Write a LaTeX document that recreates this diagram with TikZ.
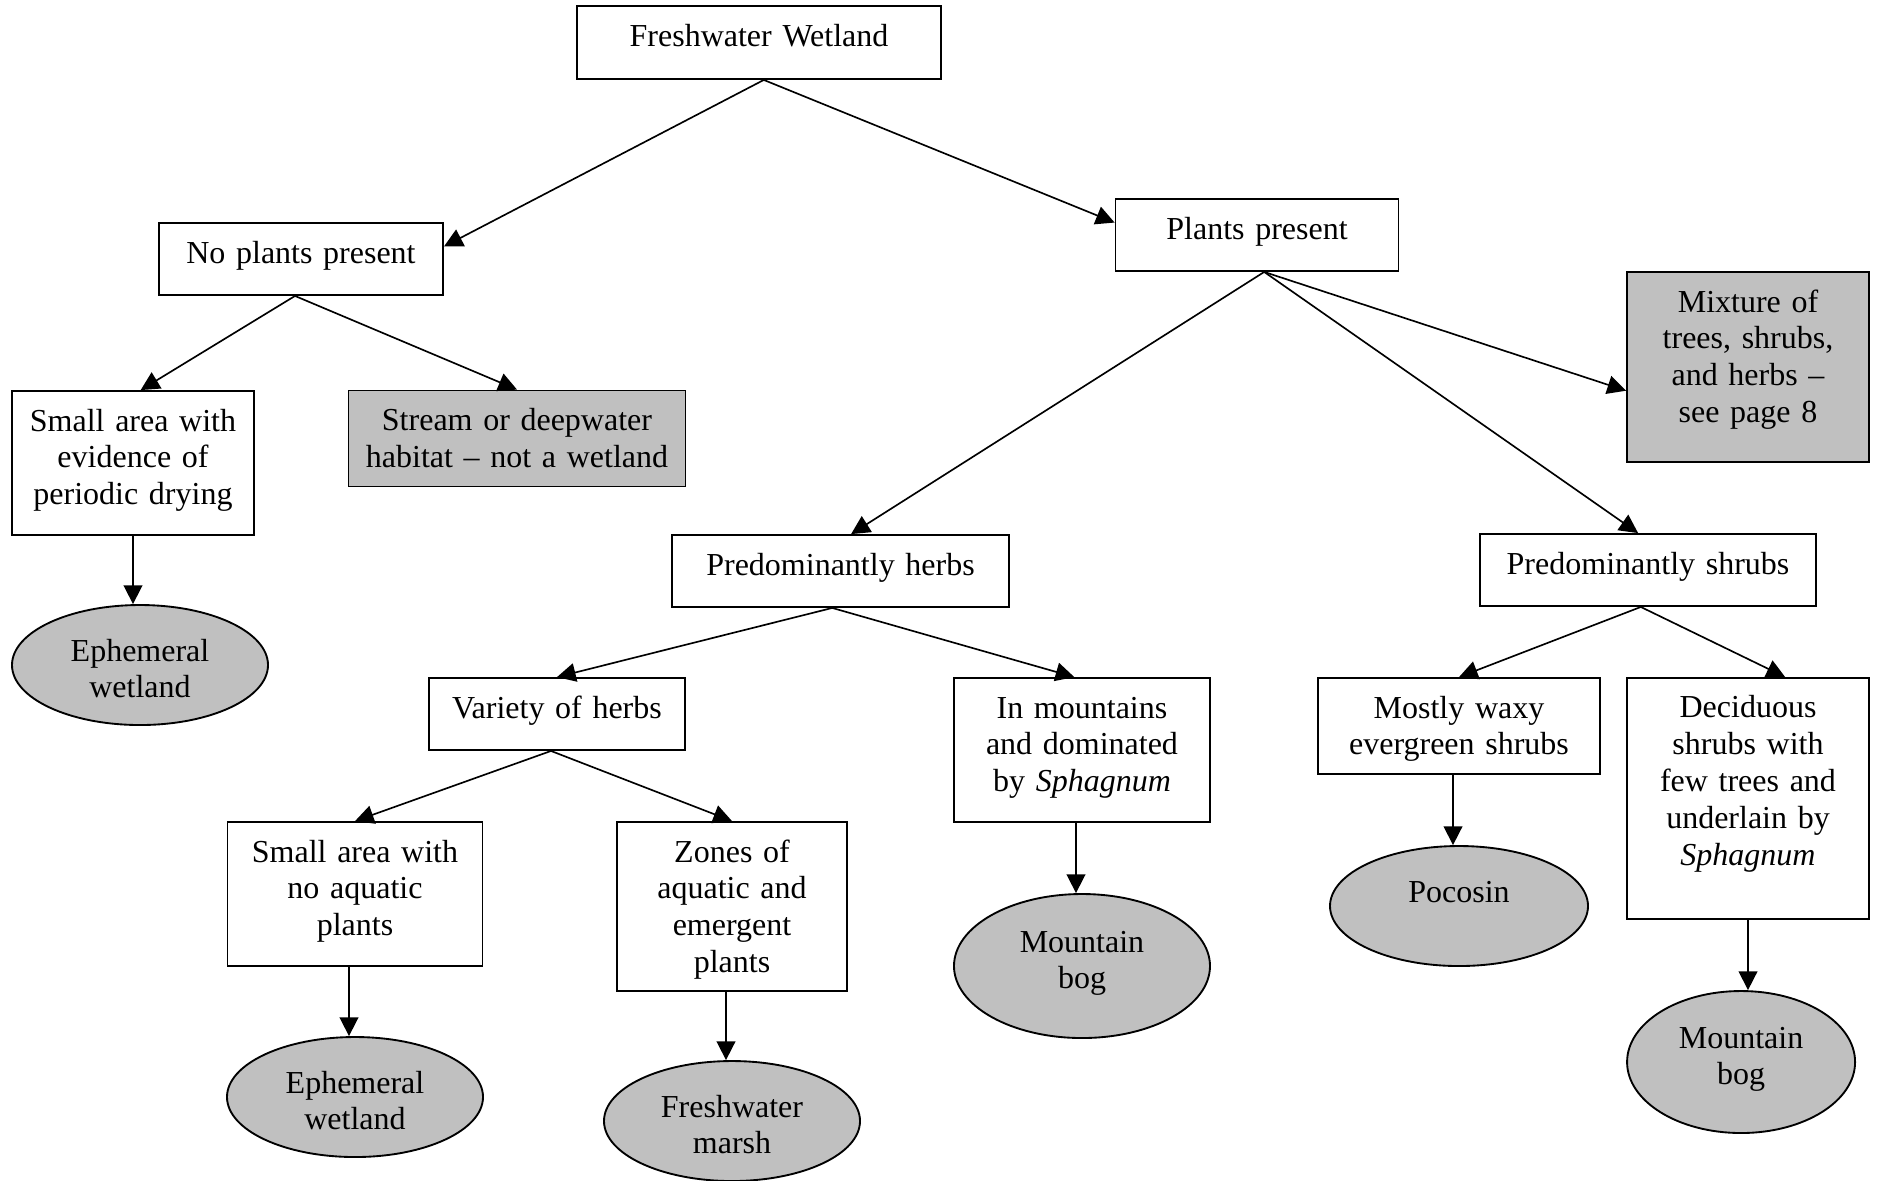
\documentclass[tikz,border=0pt]{standalone}
\usepackage{fontspec}
\setmainfont{Liberation Serif}
\usetikzlibrary{arrows.meta,positioning,shapes.geometric}
\definecolor{shade}{RGB}{192,192,192}

\begin{document}
\begin{tikzpicture}[x=0.375pt,y=-0.375pt]
\tikzstyle{box} = [rectangle, draw, line width=0.7pt, inner sep=0pt, align=center, text height=15pt, font=\fontsize{12}{13.8}\selectfont]
\tikzstyle{grey box} = [box, fill=shade]
\tikzstyle{leaf} = [ellipse, draw, fill=shade, line width=0.7pt, inner sep=0pt, align=center, text width=60pt, text height=9pt, text depth=12pt, minimum width=96pt, minimum height=45pt, font=\fontsize{12}{13.8}\selectfont]
\tikzstyle{tall leaf} = [leaf, text depth=19.5pt, minimum height=54pt]
\tikzstyle{arrow} = [-{Triangle[length=7pt,width=7pt]}, line width=0.62pt]
\useasboundingbox (0,0) rectangle (1879,1180);

\node [box, text width=136.5pt, text depth=12.375pt] (wetland) at (759,42.5) {Freshwater Wetland};
\node [box, text width=106.5pt, text depth=12pt, node distance=81.19pt, below of=wetland, xshift=-171.75pt] (noplants) {No plants present};
\node [box, text width=106.1pt, text depth=12pt, node distance=72.19pt, below of=wetland, xshift=186.75pt] (plants) {Plants present};
\node [grey box, text width=90.75pt, text depth=56.25pt, node distance=49.5pt, below of=plants, xshift=184.125pt] (mixture) {Mixture of\\trees, shrubs,\\and herbs --\\see page 8};
\node [box, text width=90.75pt, text depth=39pt, node distance=76.5pt, below of=noplants, xshift=-63pt] (smalldry) {Small area with\\evidence of\\periodic drying};
\node [grey box, text width=126.4pt, text depth=21pt, node distance=67.31pt, below of=noplants, xshift=81pt] (stream) {Stream or deepwater\\habitat -- not a wetland};
\node [leaf, node distance=75.75pt, below of=smalldry, xshift=2.625pt] (ephem1) {Ephemeral\\wetland};
\node [box, text width=126.4pt, text depth=12pt, node distance=126pt, below of=plants, xshift=-156.19pt] (herbs) {Predominantly herbs};
\node [box, text width=126pt, text depth=12pt, node distance=125.625pt, below of=plants, xshift=146.625pt] (shrubs) {Predominantly shrubs};
\node [box, text width=96pt, text depth=12pt, node distance=53.625pt, below of=herbs, xshift=-106.31pt] (variety) {Variety of herbs};
\node [box, text width=96pt, text depth=39pt, node distance=67.125pt, below of=herbs, xshift=90.56pt] (mountains) {In mountains\\and dominated\\by \textit{Sphagnum}};
\node [box, text width=95.6pt, text depth=39pt, node distance=67.5pt, below of=variety, xshift=-75.75pt] (noaquatic) {Small area with\\no aquatic\\plants};
\node [box, text width=86.25pt, text depth=48.4pt, node distance=72.19pt, below of=variety, xshift=65.625pt] (zones) {Zones of\\aquatic and\\emergent\\plants};
\node [leaf, node distance=76.125pt, below of=noaquatic] (ephem2) {Ephemeral\\wetland};
\node [leaf, node distance=80.44pt, below of=zones] (marsh) {Freshwater\\marsh};
\node [tall leaf, node distance=81pt, below of=mountains] (bog1) {Mountain\\bog};
\node [box, text width=105.75pt, text depth=21pt, node distance=58.5pt, below of=shrubs, xshift=-70.875pt] (waxy) {Mostly waxy\\evergreen shrubs};
\node [box, text width=90.75pt, text depth=75.4pt, node distance=85.69pt, below of=shrubs, xshift=37.5pt] (deciduous) {Deciduous\\shrubs with\\few trees and\\underlain by\\\textit{Sphagnum}};
\node [leaf, minimum width=96.75pt, node distance=67.5pt, below of=waxy] (pocosin) {Pocosin};
\node [tall leaf, minimum width=85.5pt, minimum height=53.25pt, node distance=98.81pt, below of=deciduous, xshift=-2.6pt] (bog2) {Mountain\\bog};

% top levels
\path ([xshift=1.8pt]wetland.south) edge [arrow] (noplants.5);
\path ([xshift=1.8pt]wetland.south) edge [arrow] (plants.175);
\path ([xshift=-2.25pt]noplants.south) edge [arrow] (smalldry.84);
\path ([xshift=-2.25pt]noplants.south) edge [arrow] (stream.north);
\path ([xshift=2.7pt]plants.south) edge [arrow] (mixture.191);
\path ([xshift=2.7pt]plants.south) edge [arrow] (herbs.74);
\path ([xshift=2.7pt]plants.south) edge [arrow] (shrubs.105);
\path ([xshift=-3.1pt]herbs.south) edge [arrow] (variety.north);
\path ([xshift=-3.1pt]herbs.south) edge [arrow] (mountains.96);
\path ([xshift=-2.25pt]variety.south) edge [arrow] (noaquatic.north);
\path ([xshift=-2.25pt]variety.south) edge [arrow] (zones.north);
\path ([xshift=-2.7pt]shrubs.south) edge [arrow] (waxy.north);
\path ([xshift=-2.7pt]shrubs.south) edge [arrow] (deciduous.73);
% down to the wetland types
\path (smalldry.south) edge [arrow] (smalldry.south |- ephem1.north);
\path ([xshift=-2.25pt]noaquatic.south) edge [arrow] ([xshift=-2.25pt]noaquatic.south |- ephem2.north);
\path ([xshift=-2.25pt]zones.south) edge [arrow] ([xshift=-2.25pt]zones.south |- marsh.north);
\path ([xshift=-2.25pt]mountains.south) edge [arrow] ([xshift=-2.25pt]mountains.south |- bog1.north);
\path ([xshift=-2.25pt]waxy.south) edge [arrow] ([xshift=-2.25pt]waxy.south |- pocosin.north);
\path (deciduous.south) edge [arrow] (deciduous.south |- bog2.north);
\end{tikzpicture}
\end{document}
